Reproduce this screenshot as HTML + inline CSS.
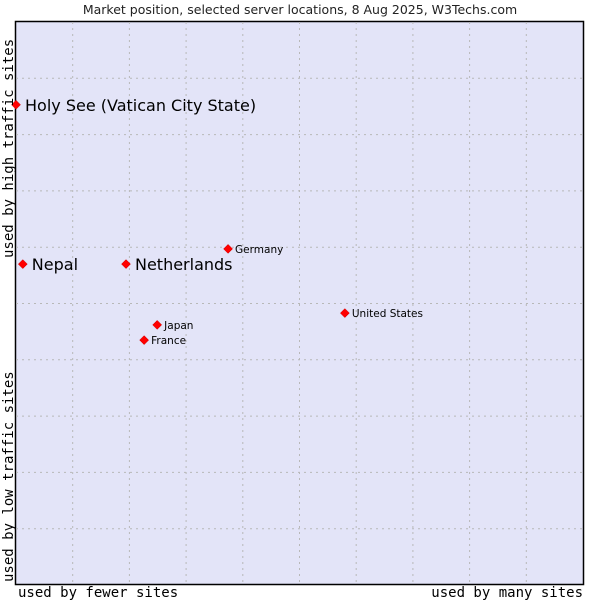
<!DOCTYPE html>
<html><head><meta charset="utf-8"><style>
html,body{margin:0;padding:0;background:#fff;}
svg{display:block;}
</style></head><body>
<svg id="chart" width="600" height="600" xmlns="http://www.w3.org/2000/svg">
<text x="300" y="14" text-anchor="middle" font-family="DejaVu Sans, sans-serif" font-size="12.5" fill="#222">Market position, selected server locations, 8 Aug 2025, W3Techs.com</text>
<rect x="15.5" y="21.5" width="568" height="563" fill="#e3e4f8" stroke="#000" stroke-width="1.5"/>
<g id="grid"></g>
<g id="points"></g>
<text x="18" y="597" font-family="DejaVu Sans Mono, monospace" font-size="14" fill="#000">used by fewer sites</text>
<text x="583" y="597" text-anchor="end" font-family="DejaVu Sans Mono, monospace" font-size="14" fill="#000">used by many sites</text>
<text transform="translate(13,582) rotate(-90)" font-family="DejaVu Sans Mono, monospace" font-size="14" fill="#000">used by low traffic sites</text>
<text transform="translate(13,258) rotate(-90)" font-family="DejaVu Sans Mono, monospace" font-size="14" fill="#000">used by high traffic sites</text>
</svg>
<script>
const countries = ["Holy See (Vatican City State)","Nepal","Netherlands","Germany","Japan","France","United States"];
const xValues = [0, 1.2, 19.4, 37.4, 24.9, 22.6, 58.0];
const yValues = [85.3, 57.0, 57.0, 59.7, 46.2, 43.5, 48.3];
const highlighted = [true, true, true, false, false, false, false];
const gridTicks = [10,20,30,40,50,60,70,80,90];

const X0=16, X1=583, Y0=585, Y1=22;
function xs(v){return X0+(X1-X0)*v/100;}
function ys(v){return Y0-(Y0-Y1)*v/100;}
const NS="http://www.w3.org/2000/svg";
const grid=document.getElementById('grid');
gridTicks.forEach(t=>{
  const v=document.createElementNS(NS,'line');
  
  
  v.setAttribute('x1',xs(t));v.setAttribute('x2',xs(t));
  v.setAttribute('y1',Y1);v.setAttribute('y2',Y0);
  v.setAttribute('stroke','#b8b8b8');v.setAttribute('stroke-dasharray','2,4');
  grid.appendChild(v);
  const h=document.createElementNS(NS,'line');
  
  
  h.setAttribute('y1',ys(t));h.setAttribute('y2',ys(t));
  h.setAttribute('x1',X0);h.setAttribute('x2',X1);
  h.setAttribute('stroke','#b8b8b8');h.setAttribute('stroke-dasharray','2,4');
  grid.appendChild(h);
});
const pts=document.getElementById('points');
countries.forEach((c,i)=>{
  const cx=xs(xValues[i]), cy=ys(yValues[i]);
  const d=document.createElementNS(NS,'path');
  
  
  d.setAttribute('d',`M${cx-4.5},${cy}L${cx},${cy-4.5}L${cx+4.5},${cy}L${cx},${cy+4.5}Z`);
  d.setAttribute('fill','#ff0000');d.setAttribute('stroke','#cc0000');d.setAttribute('stroke-width','0.5');
  pts.appendChild(d);
  const t=document.createElementNS(NS,'text');
  
  
  const big=highlighted[i];
  t.setAttribute('x',cx+(big?9:7));
  t.setAttribute('y',cy+(big?6:4));
  t.setAttribute('font-family','DejaVu Sans, sans-serif');
  t.setAttribute('font-size',big?'16':'10.5');
  t.setAttribute('fill','#000');
  t.textContent=c;
  pts.appendChild(t);
});
</script>
</body></html>
